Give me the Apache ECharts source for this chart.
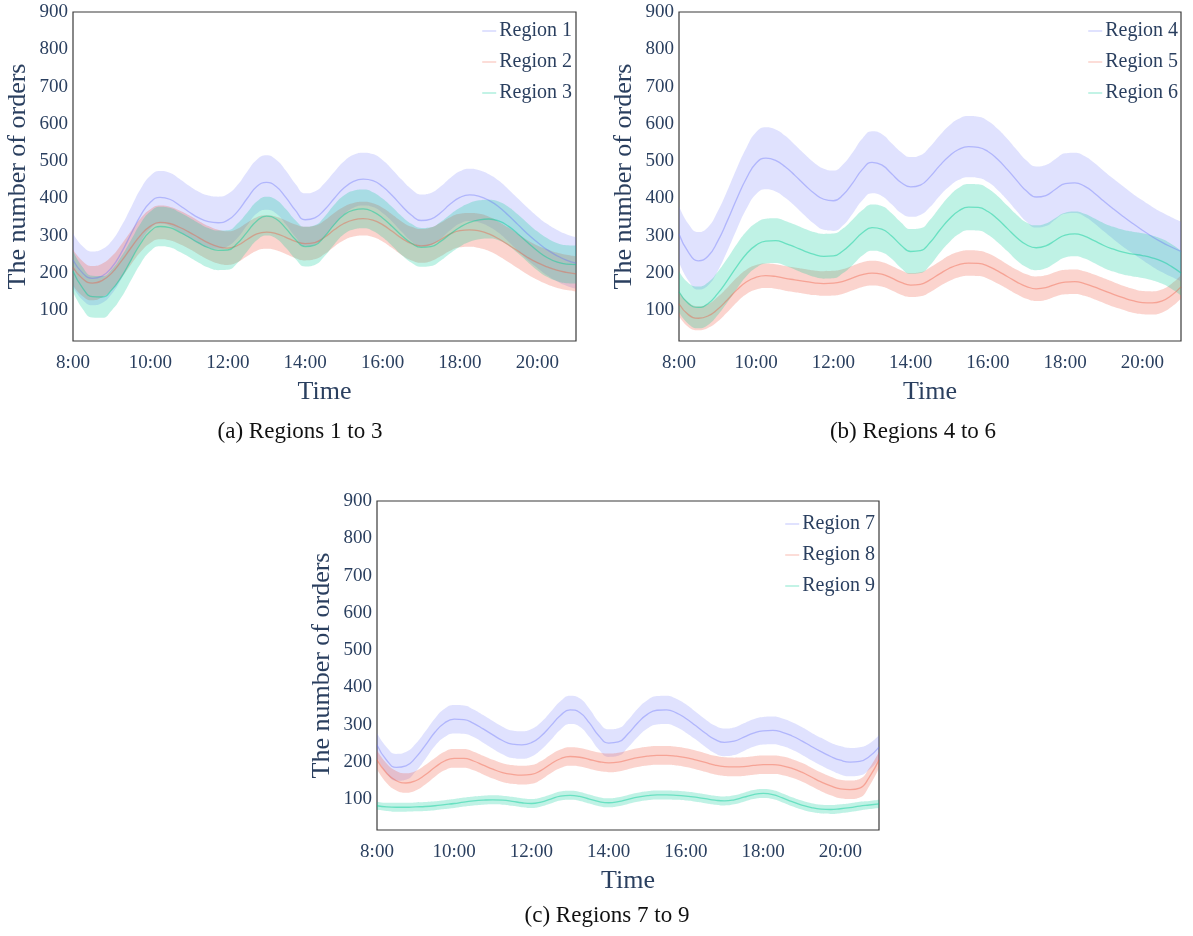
<!DOCTYPE html>
<html>
<head>
<meta charset="utf-8">
<script src="https://cdn.jsdelivr.net/npm/echarts@6/dist/echarts.min.js"></script>
<style>
html,body{margin:0;padding:0;background:#fff;}
#chart{width:1193px;height:936px;}
</style>
</head>
<body>
<div id="chart"></div>
<script>
// Time categories (quarter-hourly, 8:00 - 21:00)
const times = ['8:00','8:15','8:30','8:45','9:00','9:15','9:30','9:45','10:00','10:15','10:30','10:45','11:00','11:15','11:30','11:45','12:00','12:15','12:30','12:45','13:00','13:15','13:30','13:45','14:00','14:15','14:30','14:45','15:00','15:15','15:30','15:45','16:00','16:15','16:30','16:45','17:00','17:15','17:30','17:45','18:00','18:15','18:30','18:45','19:00','19:15','19:30','19:45','20:00','20:15','20:30','20:45','21:00'];
const yTicks = [100,200,300,400,500,600,700,800,900];

// Panel (a)
const r1Mean = [235,200,186,192,215,255,305,355,390,403,398,382,364,348,338,335,342,365,400,432,443,432,403,368,343,348,370,400,428,446,452,448,432,408,380,355,341,345,362,385,403,410,406,395,378,355,330,305,283,263,247,235,227];
const r1Half = [72,72,72,72,71,71,71,71,71,71,71,71,70,70,70,70,70,71,72,72,73,72,72,71,71,71,71,71,71,71,71,71,71,70,70,70,70,70,70,70,70,70,70,70,70,70,70,70,69,69,69,69,69];
const r2Mean = [215,185,173,180,200,232,268,302,326,336,333,323,310,295,281,271,267,274,290,305,310,306,296,285,279,282,296,316,333,343,346,342,330,312,293,279,273,277,290,305,314,316,313,305,292,276,259,242,228,217,208,202,198];
const r2Half = [48,47,46,45,45,45,45,45,45,45,45,45,45,45,45,45,45,45,45,45,45,45,45,45,45,45,45,45,45,45,45,45,45,45,45,45,45,45,45,45,45,45,46,46,46,46,46,46,46,47,47,47,47];
const r3Mean = [205,160,137,136,155,190,235,280,312,325,322,310,296,281,268,261,262,280,310,340,353,345,320,290,271,275,298,330,356,369,372,365,348,325,300,280,269,271,285,305,323,336,343,345,340,326,305,282,260,242,230,224,223];
const r3Half = [55,56,56,56,55,55,54,54,53,53,53,53,53,53,53,53,53,53,52,52,52,52,52,52,53,53,53,53,52,52,52,52,52,52,52,52,52,52,52,52,52,52,52,52,52,52,52,52,52,52,51,51,51];

// Panel (b)
const r4Mean = [305,255,233,245,285,340,400,455,495,508,502,485,462,437,414,398,394,410,442,478,497,490,467,443,431,436,458,488,514,532,539,537,526,505,478,448,420,404,408,425,440,442,433,415,393,372,352,333,315,298,283,270,258];
const r4Half = [75,76,77,78,80,81,82,82,83,83,83,83,82,82,82,82,81,82,82,83,83,83,82,82,80,80,81,81,82,82,82,82,82,82,82,82,82,82,82,81,81,81,81,81,81,81,81,80,80,80,80,80,80];
const r5Mean = [118,88,79,85,103,128,155,177,189,193,191,186,182,178,174,172,173,178,187,196,200,197,187,175,168,170,182,198,213,223,227,226,219,206,191,176,164,158,161,170,176,177,172,163,153,143,134,126,121,120,125,140,163];
const r5Half = [33,33,32,32,33,33,33,33,33,33,33,33,33,33,33,33,33,33,33,33,33,33,33,33,32,32,33,33,34,34,34,34,34,34,33,33,33,33,33,33,33,33,33,33,33,33,32,32,31,31,31,31,31];
const r6Mean = [150,118,108,118,145,180,218,252,275,286,287,280,270,259,250,245,246,260,283,308,322,318,300,275,258,260,282,315,345,367,377,376,365,345,320,295,276,268,273,288,302,305,299,287,274,264,256,251,247,241,232,218,200];
const r6Half = [55,55,56,57,58,59,60,60,60,60,60,60,60,60,60,60,60,60,61,61,62,62,61,61,60,60,61,61,62,62,62,62,62,62,61,61,60,60,60,60,60,60,60,60,60,60,60,60,60,60,60,60,60];

// Panel (c)
const r7Mean = [246,205,186,190,212,245,280,305,315,314,304,289,273,258,248,246,252,270,297,325,340,333,305,270,251,254,276,305,328,339,340,332,317,298,278,261,253,256,267,278,284,285,280,270,257,242,228,215,205,200,202,215,240];
const r7Half = [32,35,36,37,37,37,37,38,38,38,37,37,37,37,37,37,37,37,38,38,38,38,38,37,37,37,37,38,38,38,38,38,38,37,37,37,37,37,37,37,37,37,37,37,37,37,37,37,38,38,38,35,32];
const r8Mean = [206,170,150,144,150,166,186,203,210,210,203,192,181,172,167,165,167,178,195,209,215,213,207,201,198,200,206,212,216,218,218,216,212,206,199,192,188,187,188,191,193,193,190,183,173,160,147,136,128,126,130,160,206];
const r8Half = [25,26,26,26,26,26,25,25,25,25,25,25,25,25,25,25,25,25,25,25,25,25,25,25,25,25,25,25,25,25,25,25,25,25,25,25,25,25,25,25,25,25,25,25,25,25,25,25,25,25,25,24,22];
const r9Mean = [83,80,79,79,80,81,83,86,89,93,96,98,99,98,95,91,89,93,101,109,111,108,101,94,91,94,100,106,110,112,112,111,109,106,102,98,96,99,106,113,116,113,104,94,85,78,74,73,75,78,82,85,88];
const r9Half = [11,11,12,12,12,12,12,12,12,12,12,12,12,12,12,12,12,12,12,12,12,12,12,12,12,12,12,12,12,12,12,12,12,12,12,12,12,12,12,12,12,12,12,12,12,12,12,12,12,12,12,11,11];

const legendNames = [['Region 1','Region 2','Region 3'],['Region 4','Region 5','Region 6'],['Region 7','Region 8','Region 9']];
const captions = ['(a) Regions 1 to 3','(b) Regions 4 to 6','(c) Regions 7 to 9'];

const purple = {line:'rgba(99,110,250,0.38)', fill:'rgba(99,110,250,0.2)'};
const red = {line:'rgba(239,85,59,0.38)', fill:'rgba(239,85,59,0.25)'};
const green = {line:'rgba(0,204,150,0.45)', fill:'rgba(0,204,150,0.25)'};
const palette = [purple, red, green];

const panels = [
  {means:[r1Mean,r2Mean,r3Mean], halves:[r1Half,r2Half,r3Half]},
  {means:[r4Mean,r5Mean,r6Mean], halves:[r4Half,r5Half,r6Half]},
  {means:[r7Mean,r8Mean,r9Mean], halves:[r7Half,r8Half,r9Half]}
];

const FONT = '"Liberation Serif", "Times New Roman", serif';
const INK = '#2a3f5f';

const grids = [
  {left:73, top:12, width:503, height:329},
  {left:679, top:12, width:502, height:329},
  {left:377, top:501, width:502, height:329}
];
const legendPos = [
  {right:616, top:16},
  {right:10, top:16},
  {right:313, top:509}
];
const captionPos = [[300,432],[913,432],[607,916]];

const option = {
  backgroundColor:'#fff',
  animation:false,
  grid: grids.map(g => Object.assign({show:true, borderColor:'#3a3a3a', borderWidth:1.2, backgroundColor:'transparent'}, g)),
  xAxis: grids.map((g,i) => ({
    type:'category', gridIndex:i, data:times, boundaryGap:false,
    axisLine:{show:false}, axisTick:{show:false}, splitLine:{show:false},
    axisLabel:{interval:7, color:INK, fontFamily:FONT, fontSize:19, margin:13},
    name:'Time', nameLocation:'middle', nameGap:38,
    nameTextStyle:{color:INK, fontFamily:FONT, fontSize:26}
  })),
  yAxis: grids.map((g,i) => ({
    type:'value', gridIndex:i, min:18, max:900,
    axisLine:{show:false}, axisTick:{show:false}, splitLine:{show:false},
    axisLabel:{customValues:yTicks, color:INK, fontFamily:FONT, fontSize:19, margin:5},
    name:'The number of orders', nameLocation:'middle', nameGap:42,
    nameTextStyle:{color:INK, fontFamily:FONT, fontSize:26}
  })),
  legend: legendNames.map((names,i) => ({
    data:names, orient:'vertical', right:legendPos[i].right, top:legendPos[i].top,
    icon:'path://M0,0L20,0L20,1.5L0,1.5Z',
    itemWidth:14, itemHeight:2, itemGap:11, selectedMode:false,
    textStyle:{color:INK, fontFamily:FONT, fontSize:20, padding:[0,0,0,-2]}
  })),
  graphic: captions.map((c,i) => ({
    type:'text', x:captionPos[i][0], y:captionPos[i][1],
    style:{text:c, fill:'#111', font:'23px ' + FONT, textAlign:'center', textVerticalAlign:'middle'}
  })),
  series: []
};

panels.forEach((p,gi) => {
  p.means.forEach((m,k) => {
    const h = p.halves[k];
    const lo = m.map((v,j) => v - h[j]);
    const span = h.map(v => 2*v);
    const col = palette[k];
    const stackId = 'band' + gi + '_' + k;
    option.series.push({
      type:'line', xAxisIndex:gi, yAxisIndex:gi, data:lo, stack:stackId,
      smooth:true, symbol:'none', silent:true, lineStyle:{opacity:0}, z:2
    });
    option.series.push({
      type:'line', xAxisIndex:gi, yAxisIndex:gi, data:span, stack:stackId,
      smooth:true, symbol:'none', silent:true, lineStyle:{opacity:0},
      areaStyle:{color:col.fill, opacity:1}, z:2
    });
    option.series.push({
      name:legendNames[gi][k], type:'line', xAxisIndex:gi, yAxisIndex:gi, data:m,
      smooth:true, symbol:'none', lineStyle:{color:col.line, width:1.3},
      itemStyle:{color:col.line}, z:3
    });
  });
});

const chart = echarts.init(document.getElementById('chart'), null, {renderer:'canvas'});
chart.setOption(option);
</script>
</body>
</html>
